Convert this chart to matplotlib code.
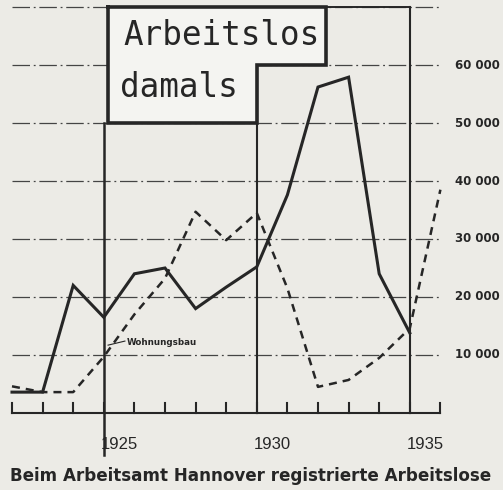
import matplotlib
matplotlib.use("Agg")
import matplotlib.pyplot as plt

# Registrierte Arbeitslose (Arbeitsamt Hannover)
years = [1922, 1923, 1924, 1925, 1926, 1927, 1928, 1929, 1930, 1931, 1932, 1933, 1934, 1935]
arbeitslose = [3600, 3600, 22000, 16500, 24000, 25000, 18000, 21700, 25200, 37600, 56200, 57900, 24000, 13800]

# Wohnungsbau (dashed curve)
bau_years = [1922, 1923, 1924, 1925, 1926, 1927, 1928, 1929, 1930, 1931, 1932, 1933, 1934, 1935, 1936]
wohnungsbau = [4600, 3600, 3600, 9700, 17000, 23200, 34700, 29800, 34500, 21500, 4500, 5700, 9500, 14600, 38500]

grid_levels = [10000, 20000, 30000, 40000, 50000, 60000, 70000]
right_labels = ["10 000", "20 000", "30 000", "40 000", "50 000", "60 000"]
year_labels = [1925, 1930, 1935]

PAPER = "#ecebe6"
INK = "#262626"

fig = plt.figure(figsize=(5.03, 4.90), dpi=100)
fig.patch.set_facecolor(PAPER)
ax = fig.add_axes([0, 0, 1, 1])
ax.set_facecolor(PAPER)
ax.set_xlim(1921.608, 1938.046)
ax.set_ylim(-13276, 71207)
ax.axis("off")

# dash-dot grid
for lv in grid_levels:
    ax.plot([1922, 1936], [lv, lv], color="#444444", lw=0.9,
            linestyle=(0, (14, 3, 1.5, 3)), zorder=1)

# label box background + outline
box_x = [1925.15, 1932.26, 1932.26, 1930.0, 1930.0, 1925.15, 1925.15]
box_y = [70000, 70000, 60000, 60000, 50000, 50000, 70000]
ax.fill(box_x, box_y, color="#f4f4f1", zorder=2)
ax.plot(box_x, box_y, color=INK, lw=2.6, solid_joinstyle="miter", zorder=5)

# frame lines
ax.plot([1932.26, 1935], [70000, 70000], color=INK, lw=1.4, zorder=3)
ax.plot([1935, 1935], [70000, 0], color=INK, lw=1.5, zorder=3)
ax.plot([1930, 1930], [60000, 0], color=INK, lw=1.5, zorder=3)
ax.plot([1925, 1925], [50000, -7300], color=INK, lw=1.8, zorder=3)

# baseline with upward ticks
ax.plot([1922, 1936], [0, 0], color=INK, lw=1.5, zorder=3)
for yr in range(1922, 1937):
    ax.plot([yr, yr], [0, 1700], color=INK, lw=1.5, zorder=3)

ax.plot(years, arbeitslose, color=INK, lw=2.2, solid_joinstyle="miter", zorder=4)
ax.plot(bau_years, wohnungsbau, color=INK, lw=1.8,
        linestyle=(0, (3.2, 2.4)), zorder=4)

# Wohnungsbau label with leader
ax.plot([1925.14, 1925.69], [11700, 12400], color=INK, lw=0.8, zorder=4)
ax.text(1925.76, 12150, "Wohnungsbau", fontsize=6.3, fontweight="bold",
        color=INK, ha="left", va="center", zorder=6)

ax.text(1925.63, 63450, "Arbeitslos", fontsize=23.5, family="DejaVu Sans Mono",
        color=INK, ha="left", va="baseline", zorder=6)
ax.text(1925.53, 54480, "damals", fontsize=23.5, family="DejaVu Sans Mono",
        color=INK, ha="left", va="baseline", zorder=6)

for lv, lab in zip(grid_levels, right_labels):
    ax.text(1936.48, lv, lab, fontsize=8.5, fontweight="bold", color=INK,
            family=["Liberation Sans Narrow", "DejaVu Sans"],
            ha="left", va="center")

for yr in year_labels:
    ax.text(yr - 0.1, -6200, str(yr), fontsize=12,
            family=["Liberation Sans", "DejaVu Sans"],
            color=INK, ha="left", va="baseline")

fig.text(251 / 503, 1 - 481 / 490, "Beim Arbeitsamt Hannover registrierte Arbeitslose",
         fontsize=12.1, fontweight="bold", family="DejaVu Sans",
         color=INK, ha="center", va="baseline")

fig.savefig("out.png", dpi=100, facecolor=PAPER)
